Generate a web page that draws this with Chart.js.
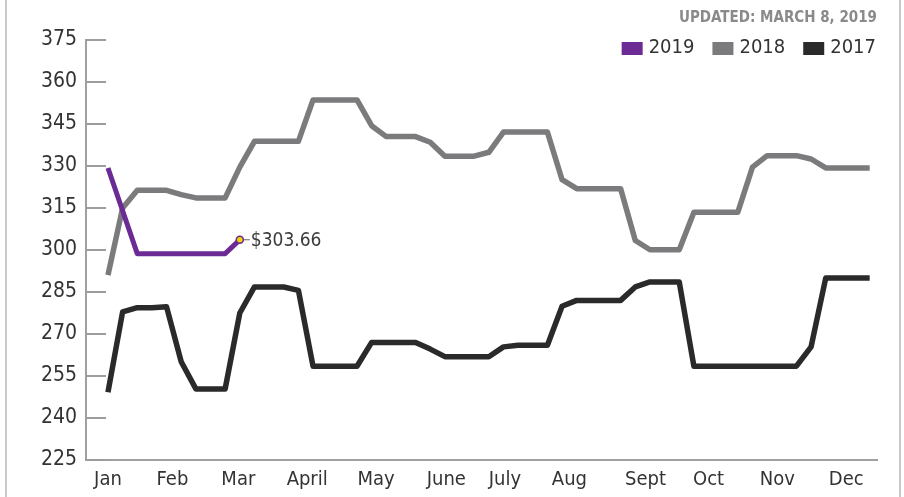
<!DOCTYPE html>
<html>
<head>
<meta charset="utf-8">
<script src="https://cdn.jsdelivr.net/npm/chart.js@4.4.1/dist/chart.umd.min.js"></script>
<style>
  html, body { margin: 0; padding: 0; background: #fff; }
  #wrap { position: relative; width: 904px; height: 497px; }
  .edge { position: absolute; top: 0; bottom: 0; width: 2px; background: #c9c9c9; }
</style>
</head>
<body>
<div id="wrap">
  <canvas id="priceChart" width="904" height="497"></canvas>
  <div class="edge" style="left:5px"></div>
  <div class="edge" style="left:899px"></div>
</div>
<script>
// weekly values, week 0 = first week of Jan
const price2019 = [329.3, 314.0, 298.7, 298.7, 298.7, 298.7, 298.7, 298.7, 298.7, 303.66];
const price2018 = [291.0, 315.0, 321.3, 321.3, 321.3, 319.8, 318.6, 318.6, 318.6, 329.6,
  338.8, 338.8, 338.8, 338.8, 353.6, 353.6, 353.6, 353.6, 344.4, 340.5,
  340.5, 340.5, 338.5, 333.5, 333.5, 333.5, 334.9, 342.1, 342.1, 342.1,
  342.1, 325.1, 321.9, 321.9, 321.9, 321.9, 303.4, 300.1, 300.1, 300.1,
  313.5, 313.5, 313.5, 313.5, 329.6, 333.7, 333.7, 333.7, 332.5, 329.3,
  329.3, 329.3, 329.3];
const price2017 = [249.2, 277.9, 279.4, 279.4, 279.7, 260.1, 250.4, 250.4, 250.4, 277.5,
  286.8, 286.8, 286.8, 285.6, 258.5, 258.5, 258.5, 258.5, 267.0, 267.0,
  267.0, 267.0, 264.6, 261.9, 261.9, 261.9, 261.9, 265.4, 266.0, 266.0,
  266.0, 279.9, 282.0, 282.0, 282.0, 282.0, 286.8, 288.6, 288.6, 288.6,
  258.5, 258.5, 258.5, 258.5, 258.5, 258.5, 258.5, 258.5, 265.4, 290.0,
  290.0, 290.0, 290.0];

// month labels and the week they sit under
const monthLabels = ['Jan', 'Feb', 'Mar', 'April', 'May', 'June', 'July', 'Aug', 'Sept', 'Oct', 'Nov', 'Dec'];
const monthWeeks = [0, 4.4, 8.9, 13.6, 18.3, 23.1, 27.1, 31.5, 36.7, 41.0, 45.7, 50.4];
const yTicks = [225, 240, 255, 270, 285, 300, 315, 330, 345, 360, 375];

const FONT = '"Liberation Sans Narrow", "DejaVu Sans Condensed", "Arial Narrow", sans-serif';
const PURPLE = '#6c2a94';
const GRAY = '#7b7b7d';
const BLACK = '#2a2a2a';

const toPoints = arr => arr.map((v, i) => ({ x: i, y: v }));

// short tick marks drawn inward from the y axis
const insideTicks = {
  id: 'insideTicks',
  beforeDatasetsDraw(chart) {
    const { ctx, chartArea, scales } = chart;
    ctx.save();
    ctx.strokeStyle = '#9d9d9d';
    ctx.lineWidth = 2;
    scales.y.ticks.forEach(t => {
      const y = Math.round(scales.y.getPixelForValue(t.value));
      ctx.beginPath();
      ctx.moveTo(chartArea.left, y);
      ctx.lineTo(chartArea.left + 20, y);
      ctx.stroke();
    });
    ctx.restore();
  }
};

// legend at top right, overlapping the plot
const cornerLegend = {
  id: 'cornerLegend',
  afterDraw(chart) {
    const ctx = chart.ctx;
    const sets = chart.data.datasets;
    let right = 876;
    const cy = 48;
    ctx.save();
    ctx.font = '20px ' + FONT;
    ctx.textBaseline = 'middle';
    ctx.textAlign = 'right';
    for (let i = sets.length - 1; i >= 0; i--) {
      const w = ctx.measureText(sets[i].label).width;
      ctx.fillStyle = '#333';
      ctx.fillText(sets[i].label, right, cy);
      const boxRight = right - w - 6;
      ctx.fillStyle = sets[i].borderColor;
      ctx.fillRect(boxRight - 21, cy - 6, 21, 13);
      right = boxRight - 21 - 18;
    }
    ctx.restore();
  }
};

// price tag on the latest 2019 point
const lastLabel = {
  id: 'lastLabel',
  afterDatasetsDraw(chart) {
    const meta = chart.getDatasetMeta(0);
    const pt = meta.data[meta.data.length - 1];
    const ctx = chart.ctx;
    ctx.save();
    ctx.strokeStyle = '#666';
    ctx.lineWidth = 1;
    ctx.beginPath();
    ctx.moveTo(pt.x + 4, pt.y);
    ctx.lineTo(pt.x + 10, pt.y);
    ctx.stroke();
    ctx.font = '19px ' + FONT;
    ctx.fillStyle = '#3c3c3c';
    ctx.textBaseline = 'middle';
    ctx.fillText('$' + price2019[price2019.length - 1].toFixed(2), pt.x + 11, pt.y + 1);
    ctx.restore();
  }
};

const ctx = document.getElementById('priceChart').getContext('2d');
const chart = new Chart(ctx, {
  type: 'line',
  data: {
    datasets: [{
      label: '2019',
      data: toPoints(price2019),
      borderColor: PURPLE,
      backgroundColor: PURPLE,
      borderWidth: 5,
      pointRadius: c => c.dataIndex === price2019.length - 1 ? 3.5 : 0,
      pointBackgroundColor: '#f0d400',
      pointBorderColor: PURPLE,
      pointBorderWidth: 1.5,
      borderJoinStyle: 'round'
    }, {
      label: '2018',
      data: toPoints(price2018),
      borderColor: GRAY,
      backgroundColor: GRAY,
      borderWidth: 5.5,
      pointRadius: 0,
      borderJoinStyle: 'round'
    }, {
      label: '2017',
      data: toPoints(price2017),
      borderColor: BLACK,
      backgroundColor: BLACK,
      borderWidth: 5.5,
      pointRadius: 0,
      borderJoinStyle: 'round'
    }]
  },
  options: {
    responsive: false,
    animation: false,
    layout: { padding: { left: 0, right: 27, top: 0, bottom: 0 } },
    plugins: {
      legend: { display: false },
      tooltip: { enabled: false },
      title: {
        display: true,
        text: 'UPDATED: MARCH 8, 2019',
        align: 'end',
        color: '#8a8a8a',
        font: { family: FONT, size: 15, weight: 'bold', lineHeight: 1.2 },
        padding: { top: 9, bottom: 13 }
      }
    },
    scales: {
      x: {
        type: 'linear',
        min: -1.5,
        max: 52.5,
        grid: { display: false, drawTicks: false },
        border: { display: true, color: '#a0a0a0', width: 2 },
        afterBuildTicks: s => { s.ticks = monthWeeks.map(v => ({ value: v })); },
        afterFit: s => { s.height = 37; },
        ticks: {
          autoSkip: false,
          maxRotation: 0,
          padding: 8,
          color: '#333',
          font: { family: FONT, size: 20 },
          callback: (v, i) => monthLabels[i]
        }
      },
      y: {
        min: 225,
        max: 375,
        grid: { display: false, drawTicks: false },
        border: { display: true, color: '#a0a0a0', width: 2 },
        afterBuildTicks: s => { s.ticks = yTicks.map(v => ({ value: v })); },
        afterFit: s => { s.width = 86; },
        ticks: {
          padding: 9,
          color: '#333',
          font: { family: FONT, size: 21 }
        }
      }
    }
  },
  plugins: [insideTicks, cornerLegend, lastLabel]
});
</script>
</body>
</html>
